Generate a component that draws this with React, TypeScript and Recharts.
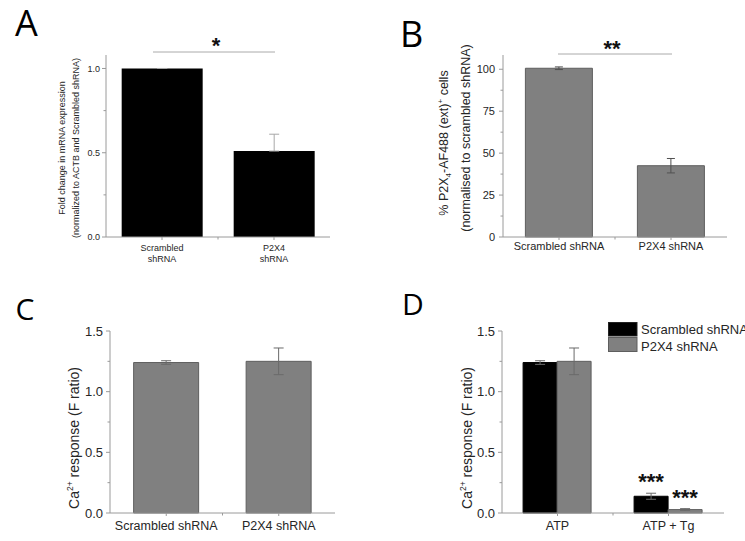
import React from 'react';
import { BarChart, Bar, XAxis, YAxis, ErrorBar, LabelList } from 'recharts';

// Panel A: qPCR fold change
const mrnaGroups = ['Scrambled\nshRNA', 'P2X4\nshRNA'];
const mrnaFold = [1.0, 0.51];
const mrnaErr = [[0, 0], [0, 0.1]];
const mrnaTicks = [0, 0.25, 0.5, 0.75, 1.0];

// Panel B: flow cytometry
const flowGroups = ['Scrambled shRNA', 'P2X4 shRNA'];
const flowPct = [100.6, 42.5];
const flowErr = [0.8, 4.3];
const flowTicks = [0, 12.5, 25, 37.5, 50, 62.5, 75, 87.5, 100];

// Panel C: Ca2+ response to ATP
const caGroups = ['Scrambled shRNA', 'P2X4 shRNA'];
const caResp = [1.24, 1.25];
const caErr = [0.015, 0.11];
const caTicks = [0, 0.25, 0.5, 0.75, 1.0, 1.25, 1.5];

// Panel D: ATP vs ATP + Tg
const stimGroups = ['ATP', 'ATP + Tg'];
const scrambledResp = [1.24, 0.138];
const scrambledErr = [0.015, 0.025];
const scrambledSig = ['', '***'];
const p2x4Resp = [1.25, 0.028];
const p2x4Err = [0.11, 0.008];
const p2x4Sig = ['', '***'];

const AXIS = '#9a9a9a';
const TEXT = '#262626';
const GRAY = '#808080';
const GRAY_EDGE = '#5e5e5e';
const FONT = '"Liberation Sans", Arial, sans-serif';

const mrnaData = mrnaGroups.map((g, i) => ({ group: g, fold: mrnaFold[i], err: mrnaErr[i] }));
const flowData = flowGroups.map((g, i) => ({ group: g, pct: flowPct[i], err: flowErr[i] }));
const caData = caGroups.map((g, i) => ({ group: g, resp: caResp[i], err: caErr[i] }));
const stimData = stimGroups.map((g, i) => ({
  group: g,
  scr: scrambledResp[i],
  scrErr: scrambledErr[i],
  scrSig: scrambledSig[i],
  p2x4: p2x4Resp[i],
  p2x4Err: p2x4Err[i],
  p2x4Sig: p2x4Sig[i],
}));

const makeYTick =
  (axisX: number, step: number, digits: number, fontSize: number, gap: number) =>
  (props: any) => {
    const { y, payload } = props;
    const v = payload.value as number;
    const major = Math.abs(v / step - Math.round(v / step)) < 1e-6;
    const len = major ? 4 : 2.5;
    return (
      <g>
        <line x1={axisX - len} x2={axisX} y1={y} y2={y} stroke={AXIS} />
        {major && (
          <text x={axisX - 4 - gap} y={y} dy="0.36em" textAnchor="end" fontSize={fontSize} fill={TEXT} fontFamily={FONT}>
            {v.toFixed(digits)}
          </text>
        )}
      </g>
    );
  };

const makeXTick =
  (axisY: number, band: number, count: number, fontSize: number, offset: number, lineGap: number) =>
  (props: any) => {
    const { x, payload, index } = props;
    const lines = String(payload.value).split('\n');
    return (
      <g>
        <line x1={x} x2={x} y1={axisY} y2={axisY + 3} stroke={AXIS} />
        {index < count - 1 && (
          <line x1={x + band / 2} x2={x + band / 2} y1={axisY} y2={axisY + 2.5} stroke={AXIS} />
        )}
        <text x={x} y={axisY + offset} textAnchor="middle" fontSize={fontSize} fill={TEXT} fontFamily={FONT}>
          {lines.map((l, i) => (
            <tspan key={i} x={x} dy={i === 0 ? 0 : lineGap}>
              {l}
            </tspan>
          ))}
        </text>
      </g>
    );
  };

const makeStars = (values: number[], errs: number[]) => (props: any) => {
  const { x, y, width, height, value, index } = props;
  if (!value) return null;
  const errPx = (errs[index] * height) / values[index];
  return (
    <text x={x + width / 2} y={y - errPx - 4} textAnchor="middle" fontSize={22} fontWeight="bold" fill="#111" fontFamily={FONT}>
      {value}
    </text>
  );
};

const box = (left: number, top: number, width: number, height: number): React.CSSProperties => ({
  position: 'absolute',
  left,
  top,
  width,
  height,
});

export default function App() {
  return (
    <div style={{ position: 'absolute', left: 0, top: 0, width: 745, height: 541, background: '#fff', overflow: 'hidden' }}>
      {/* A */}
      <div style={box(0, 0, 370, 270)}>
        <BarChart width={370} height={270} data={mrnaData} margin={{ top: 55, right: 40, bottom: 3, left: 66 }} barCategoryGap="14%">
          <XAxis
            dataKey="group"
            height={30}
            interval={0}
            stroke={AXIS}
            tickLine={false}
            tick={makeXTick(237, 112, 2, 9, 13.5, 11)}
          />
          <YAxis
            width={40}
            domain={[0, 1.08]}
            ticks={mrnaTicks}
            interval={0}
            stroke={AXIS}
            tickLine={false}
            tick={makeYTick(106, 0.5, 1, 9, 2)}
          />
          <Bar dataKey="fold" fill="#000" isAnimationActive={false}>
            <ErrorBar dataKey="err" width={5} stroke="#a8a8a8" strokeWidth={1} />
          </Bar>
        </BarChart>
      </div>

      {/* B */}
      <div style={box(370, 0, 375, 270)}>
        <BarChart width={375} height={270} data={flowData} margin={{ top: 55, right: 18, bottom: 3, left: 93 }} barCategoryGap="20%">
          <XAxis
            dataKey="group"
            height={30}
            interval={0}
            stroke={AXIS}
            tickLine={false}
            tick={makeXTick(237, 112, 2, 11, 13, 12)}
          />
          <YAxis
            width={40}
            domain={[0, 108.5]}
            ticks={flowTicks}
            interval={0}
            stroke={AXIS}
            tickLine={false}
            tick={makeYTick(133, 25, 0, 11, 4)}
          />
          <Bar dataKey="pct" fill={GRAY} stroke={GRAY_EDGE} strokeWidth={1} isAnimationActive={false}>
            <ErrorBar dataKey="err" width={4} stroke="#505050" strokeWidth={1} />
          </Bar>
        </BarChart>
      </div>

      {/* C */}
      <div style={box(0, 270, 370, 271)}>
        <BarChart width={370} height={271} data={caData} margin={{ top: 61, right: 35, bottom: 0, left: 70 }} barCategoryGap="21%">
          <XAxis
            dataKey="group"
            height={28}
            interval={0}
            stroke={AXIS}
            tickLine={false}
            tick={makeXTick(243, 112.5, 2, 12.5, 16.5, 13)}
          />
          <YAxis
            width={40}
            domain={[0, 1.5]}
            ticks={caTicks}
            interval={0}
            stroke={AXIS}
            tickLine={false}
            tick={makeYTick(110, 0.5, 1, 13, 3)}
          />
          <Bar dataKey="resp" fill={GRAY} stroke={GRAY_EDGE} strokeWidth={1} isAnimationActive={false}>
            <ErrorBar dataKey="err" width={5} stroke="#6a6a6a" strokeWidth={1} />
          </Bar>
        </BarChart>
      </div>

      {/* D */}
      <div style={box(370, 270, 375, 271)}>
        <BarChart width={375} height={271} data={stimData} margin={{ top: 61, right: 21, bottom: 0, left: 92 }} barCategoryGap="19%" barGap={0}>
          <XAxis
            dataKey="group"
            height={28}
            interval={0}
            stroke={AXIS}
            tickLine={false}
            tick={makeXTick(243, 111, 2, 12.5, 16.5, 13)}
          />
          <YAxis
            width={40}
            domain={[0, 1.5]}
            ticks={caTicks}
            interval={0}
            stroke={AXIS}
            tickLine={false}
            tick={makeYTick(132, 0.5, 1, 13, 3)}
          />
          <Bar dataKey="scr" fill="#000" stroke="#000" strokeWidth={1} isAnimationActive={false}>
            <ErrorBar dataKey="scrErr" width={5} stroke="#6a6a6a" strokeWidth={1} />
            <LabelList dataKey="scrSig" content={makeStars(scrambledResp, scrambledErr)} />
          </Bar>
          <Bar dataKey="p2x4" fill={GRAY} stroke={GRAY_EDGE} strokeWidth={1} isAnimationActive={false}>
            <ErrorBar dataKey="p2x4Err" width={5} stroke="#6a6a6a" strokeWidth={1} />
            <LabelList dataKey="p2x4Sig" content={makeStars(p2x4Resp, p2x4Err)} />
          </Bar>
        </BarChart>
      </div>

      {/* letters, axis titles, significance, legend */}
      <svg width={745} height={541} style={{ position: 'absolute', left: 0, top: 0, pointerEvents: 'none' }}>
        <g fontFamily='"Open Sans", "Noto Sans", sans-serif' fill="#000">
          <text x={15} y={36} fontSize={36}>A</text>
          <text x={400} y={47} fontSize={36}>B</text>
          <text x={15.5} y={320} fontSize={30}>C</text>
          <text x={402} y={315} fontSize={30}>D</text>
        </g>
        <g fontFamily={FONT} fill={TEXT}>
          <text transform="translate(62,148) rotate(-90)" textAnchor="middle" dy="0.35em" fontSize={9}>
            Fold change in mRNA expression
          </text>
          <text transform="translate(75.5,148) rotate(-90)" textAnchor="middle" dy="0.35em" fontSize={9}>
            (normalized to ACTB and Scrambled shRNA)
          </text>
          <text transform="translate(444,143) rotate(-90)" textAnchor="middle" dy="0.35em" fontSize={12.5}>
            % P2X<tspan fontSize={8} dy={3}>4</tspan>
            <tspan dy={-3}>-AF488 (ext)</tspan>
            <tspan fontSize={8} dy={-5}>+</tspan>
            <tspan dy={5}> cells</tspan>
          </text>
          <text transform="translate(465.5,138) rotate(-90)" textAnchor="middle" dy="0.35em" fontSize={12.5}>
            (normalised to scrambled shRNA)
          </text>
          <text transform="translate(74,438) rotate(-90)" textAnchor="middle" dy="0.35em" fontSize={14}>
            Ca<tspan fontSize={8.5} dy={-6}>2+</tspan>
            <tspan dy={6}> response (F ratio)</tspan>
          </text>
          <text transform="translate(467,438) rotate(-90)" textAnchor="middle" dy="0.35em" fontSize={14}>
            Ca<tspan fontSize={8.5} dy={-6}>2+</tspan>
            <tspan dy={6}> response (F ratio)</tspan>
          </text>
        </g>
        <line x1={153} x2={275} y1={52} y2={52} stroke="#aaa" />
        <text x={216} y={52.5} textAnchor="middle" fontSize={22} fontWeight="bold" fontFamily={FONT} fill="#111">*</text>
        <line x1={558} x2={672} y1={54} y2={54} stroke="#aaa" />
        <text x={612} y={55.5} textAnchor="middle" fontSize={22} fontWeight="bold" fontFamily={FONT} fill="#111">**</text>
        <rect x={608.5} y={322.5} width={28.5} height={13.5} fill="#000" stroke="#222" />
        <rect x={608.5} y={337.5} width={28.5} height={14} fill={GRAY} stroke={GRAY_EDGE} />
        <text x={641} y={334} fontSize={13} fontFamily={FONT} fill={TEXT}>Scrambled shRNA</text>
        <text x={641} y={350.5} fontSize={13} fontFamily={FONT} fill={TEXT}>P2X4 shRNA</text>
      </svg>
    </div>
  );
}
